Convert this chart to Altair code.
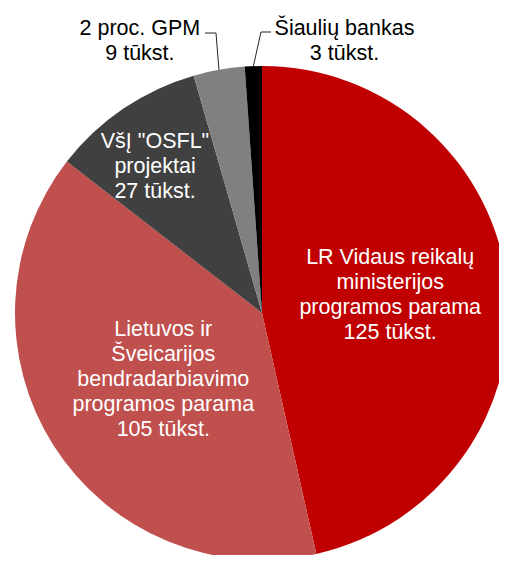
import math
import altair as alt
import pandas as pd

categories = [
    "LR Vidaus reikalų ministerijos programos parama",
    "Lietuvos ir Šveicarijos bendradarbiavimo programos parama",
    'VšĮ "OSFL" projektai',
    "2 proc. GPM",
    "Šiaulių bankas",
]
values = [125, 105, 27, 9, 3]
label_lines = [
    ["LR Vidaus reikalų", "ministerijos", "programos parama"],
    ["Lietuvos ir", "Šveicarijos", "bendradarbiavimo", "programos parama"],
    ['VšĮ "OSFL"', "projektai"],
    ["2 proc. GPM"],
    ["Šiaulių bankas"],
]
colors = ["#C00000", "#C0504D", "#404040", "#808080", "#000000"]

df = pd.DataFrame({
    "cat": categories,
    "value": values,
    "idx": list(range(len(values))),
    "label": ["\n".join(l + [f"{v} tūkst."]) for l, v in zip(label_lines, values)],
})

CX, CY, R = 254, 305, 247
FONT = "Liberation Sans"
FS = 21.5
LH = 25

base = alt.Chart(df)

arc = base.mark_arc(outerRadius=R).encode(
    theta=alt.Theta("value:Q", stack=True),
    color=alt.Color("cat:N", scale=alt.Scale(domain=categories, range=colors), legend=None),
    order=alt.Order("idx:Q"),
    x=alt.value(CX),
    y=alt.value(CY),
)

pos = (
    base.transform_window(cum="sum(value)", sort=[alt.SortField("idx")])
    .transform_joinaggregate(total="sum(value)")
    .transform_calculate(frac="(datum.cum - datum.value/2) / datum.total")
    .transform_calculate(
        xe=f"{CX} + {R} * sin(2 * PI * datum.frac)",
        ye=f"{CY} - {R} * cos(2 * PI * datum.frac)",
    )
)

# label placement: (category index, radius, dx, dy, colour)
label_spec = [
    (0, 129, 0, -3, "white"),
    (1, 117, 0, 4, "white"),
    (2, 180, -6, 3, "white"),
    (3, 276, -74, 0, "black"),
    (4, 272, 92, 0, "black"),
]

layers = [arc]
for i, r, dx, dy, col in label_spec:
    n = len(label_lines[i]) + 1
    layers.append(
        pos.transform_filter(f"datum.idx == {i}")
        .mark_text(font=FONT, fontSize=FS, lineBreak="\n", lineHeight=LH,
                   align="center", baseline="middle", dx=dx,
                   dy=dy - (n - 1) * LH / 2, color=col)
        .encode(
            theta=alt.Theta("frac:Q", scale=alt.Scale(domain=[0, 1], range=[0, 2 * math.pi]), stack=False),
            radius=alt.value(r), text="label:N",
            x=alt.value(CX), y=alt.value(CY))
    )

# leader lines: (category index, bend x, bend y, end x)
leaders = [
    (3, 208, 25, 197),
    (4, 253, 24, 263),
]
for i, bx, by, ex in leaders:
    sel = pos.transform_filter(f"datum.idx == {i}")
    layers.append(
        sel.mark_rule(color="#262626", strokeWidth=1).encode(
            x=alt.X("xe:Q", scale=None), y=alt.Y("ye:Q", scale=None),
            x2=alt.value(bx), y2=alt.value(by))
    )
    layers.append(
        sel.mark_rule(color="#262626", strokeWidth=1).encode(
            x=alt.value(bx), x2=alt.value(ex), y=alt.value(by))
    )

chart = (
    alt.layer(*layers)
    .resolve_scale(theta="independent")
    .properties(width=491, height=547, padding=0, autosize="none")
    .configure_view(stroke=None)
)

chart.save("out.html", embed_options={"renderer": "svg", "actions": False})
